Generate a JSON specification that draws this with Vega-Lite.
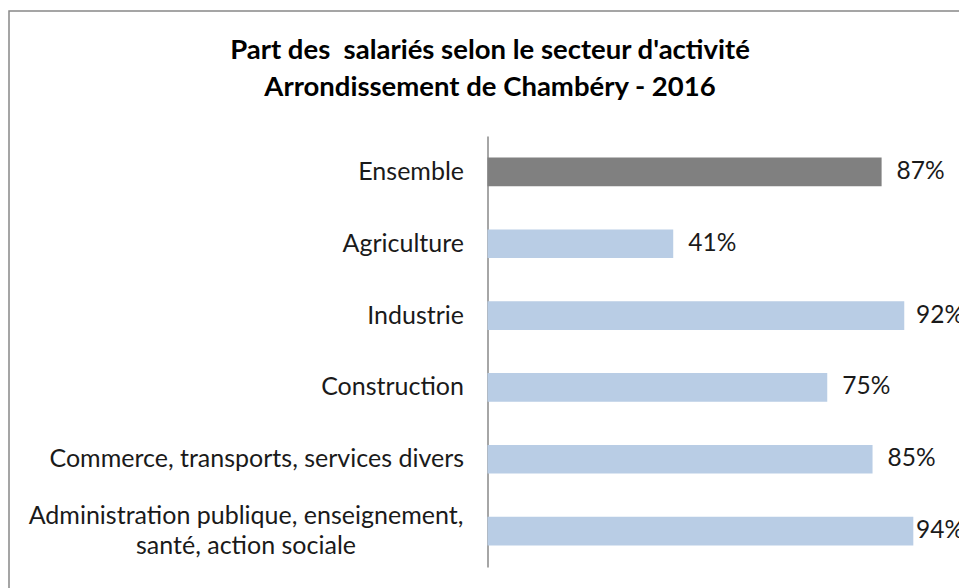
{
  "$schema": "https://vega.github.io/schema/vega-lite/v6.json",
  "autosize": {"type": "none"},
  "padding": {"left": 9, "top": 11, "right": 0, "bottom": 0},
  "width": 962,
  "height": 600,
  "background": "white",
  "config": {
    "view": {"stroke": "#888888", "strokeWidth": 1.5},
    "font": "Lato"
  },
  "title": {
    "text": ["Part des\u00a0 salariés selon le secteur d'activité", "Arrondissement de Chambéry - 2016"],
    "fontSize": 27.5,
    "fontWeight": "bold",
    "font": "Lato",
    "color": "#000000",
    "anchor": "middle",
    "frame": "group",
    "orient": "top",
    "baseline": "alphabetic",
    "offset": -112,
    "lineHeight": 37,
    "dx": 0
  },
  "data": {
    "values": [
      {"secteur": "Ensemble", "part": 0.87},
      {"secteur": "Agriculture", "part": 0.41},
      {"secteur": "Industrie", "part": 0.92},
      {"secteur": "Construction", "part": 0.75},
      {"secteur": "Commerce, transports, services divers", "part": 0.85},
      {"secteur": "Administration publique, enseignement, santé, action sociale", "part": 0.94}
    ]
  },
  "encoding": {
    "y": {
      "field": "secteur",
      "type": "nominal",
      "sort": null,
      "scale": {"range": [125, 556], "paddingInner": 0.6, "paddingOuter": 0.3},
      "axis": {
        "title": null,
        "orient": "left",
        "offset": -478.5,
        "ticks": false,
        "domainColor": "#888888",
        "domainWidth": 1.5,
        "labelFontSize": 25,
        "labelFont": "Lato",
        "labelColor": "#1a1a1a",
        "labelPadding": {"condition": {"test": "indexof(datum.value, 'Administration') == 0", "value": 242}, "value": 24},
        "labelAlign": {"condition": {"test": "indexof(datum.value, 'Administration') == 0", "value": "center"}, "value": "right"},
        "labelOffset": {"condition": {"test": "indexof(datum.value, 'Administration') == 0", "value": -15}, "value": 0},
        "labelLimit": 600,
        "labelLineHeight": 30,
        "labelExpr": "indexof(datum.value, 'Administration') == 0 ? ['Administration publique, enseignement,', 'santé, action sociale'] : datum.value"
      }
    },
    "x": {
      "field": "part",
      "type": "quantitative",
      "scale": {"domain": [0, 1], "range": [478.5, 931.5], "nice": false, "zero": true},
      "axis": null
    }
  },
  "layer": [
    {
      "mark": {"type": "bar"},
      "encoding": {
        "color": {
          "condition": {"test": "datum.secteur == 'Ensemble'", "value": "#808080"},
          "value": "#b9cde5"
        }
      }
    },
    {
      "transform": [{"filter": "datum.part <= 0.9"}],
      "mark": {"type": "text", "align": "left", "baseline": "middle", "dx": 15, "fontSize": 24.5, "font": "Lato", "color": "#1a1a1a"},
      "encoding": {
        "text": {"field": "part", "type": "quantitative", "format": ".0%"}
      }
    },
    {
      "transform": [{"filter": "datum.part > 0.9"}],
      "mark": {"type": "text", "align": "left", "baseline": "middle", "dx": -24.5, "fontSize": 24.5, "font": "Lato", "color": "#1a1a1a"},
      "encoding": {
        "x": {"datum": 1},
        "text": {"field": "part", "type": "quantitative", "format": ".0%"}
      }
    }
  ]
}
